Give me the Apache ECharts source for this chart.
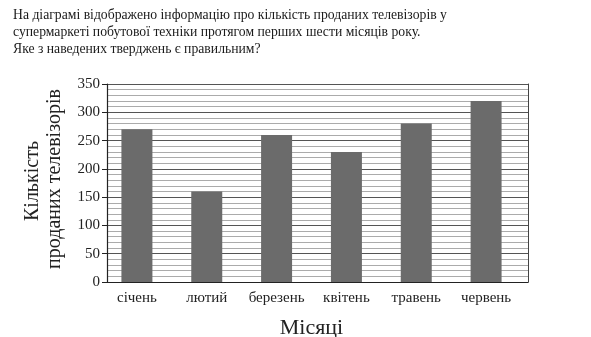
<!DOCTYPE html>
<html>
<head>
<meta charset="utf-8">
<script src="https://cdn.jsdelivr.net/npm/echarts@6/dist/echarts.min.js"></script>
<style>
  html, body { margin: 0; padding: 0; background: #fff; }
  #chart { width: 591px; height: 337px; }
</style>
</head>
<body>
<div id="chart"></div>
<script>
// місяці і кількість проданих телевізорів
const months = ['січень', 'лютий', 'березень', 'квітень', 'травень', 'червень'];
const sold = [270, 160, 260, 230, 280, 320];
const yTicks = [0, 50, 100, 150, 200, 250, 300, 350];

const serif = '"Liberation Serif", "DejaVu Serif", serif';
const chart = echarts.init(document.getElementById('chart'));

chart.setOption({
  animation: false,
  backgroundColor: '#fff',
  title: {
    text: 'На діаграмі відображено інформацію про кількість проданих телевізорів у\nсупермаркеті побутової техніки протягом перших шести місяців року.\nЯке з наведених тверджень є правильним?',
    left: 13,
    top: 7,
    padding: 0,
    textStyle: { fontFamily: serif, fontSize: 13.7, fontWeight: 'normal', color: '#1a1a1a', lineHeight: 17 }
  },
  graphic: [
    { type: 'text', x: 33, y: 181, rotation: Math.PI / 2,
      style: { text: 'Кількість', font: '20px ' + serif, fill: '#222', textAlign: 'center', textVerticalAlign: 'middle' } },
    { type: 'text', x: 55, y: 179, rotation: Math.PI / 2,
      style: { text: 'проданих телевізорів', font: '20px ' + serif, fill: '#222', textAlign: 'center', textVerticalAlign: 'middle' } }
  ],
  grid: [
    { left: 107, top: 84, width: 421, height: 198, outerBoundsMode: 'none' },   // рамка і сітка
    { left: 102, top: 84, width: 419, height: 198, outerBoundsMode: 'none' }    // стовпчики
  ],
  xAxis: [
    {
      gridIndex: 0, type: 'category', data: months,
      axisLine: { lineStyle: { color: '#222', width: 1.2 } },
      axisTick: { show: false }, axisLabel: { show: false }, splitLine: { show: false }
    },
    {
      gridIndex: 1, type: 'category', data: months,
      axisLine: { show: false }, axisTick: { show: false },
      axisLabel: { interval: 0, margin: 9, fontFamily: serif, fontSize: 15, color: '#222' },
      name: 'Місяці', nameLocation: 'middle', nameGap: 35,
      nameTextStyle: { fontFamily: serif, fontSize: 22, color: '#222' }
    }
  ],
  yAxis: [
    {
      gridIndex: 0, type: 'value', min: 0, max: 350, interval: 50,
      axisLine: { show: true, lineStyle: { color: '#222', width: 1.2 } },
      axisTick: { show: true, inside: false, length: 5, lineStyle: { color: '#222' } },
      axisLabel: {
        margin: 7, fontFamily: serif, fontSize: 15, color: '#222',
        formatter: v => yTicks.indexOf(v) >= 0 ? String(v) : ''
      },
      splitLine: { show: true, lineStyle: { color: '#555', width: 1 } },
      minorTick: { show: false, splitNumber: 5 },
      minorSplitLine: { show: true, lineStyle: { color: '#ababab', width: 1 } }
    },
    {
      gridIndex: 0, type: 'value', min: 0, max: 350, interval: 50, position: 'right',
      axisLine: { show: true, lineStyle: { color: '#444', width: 1 } },
      axisTick: { show: false }, axisLabel: { show: false }, splitLine: { show: false }
    },
    {
      gridIndex: 1, type: 'value', min: 0, max: 350, interval: 50, show: false
    }
  ],
  series: [
    {
      name: 'Продано',
      type: 'bar',
      xAxisIndex: 1,
      yAxisIndex: 2,
      data: sold,
      barWidth: 31,
      itemStyle: { color: '#6b6b6b' }
    }
  ]
});
</script>
</body>
</html>
